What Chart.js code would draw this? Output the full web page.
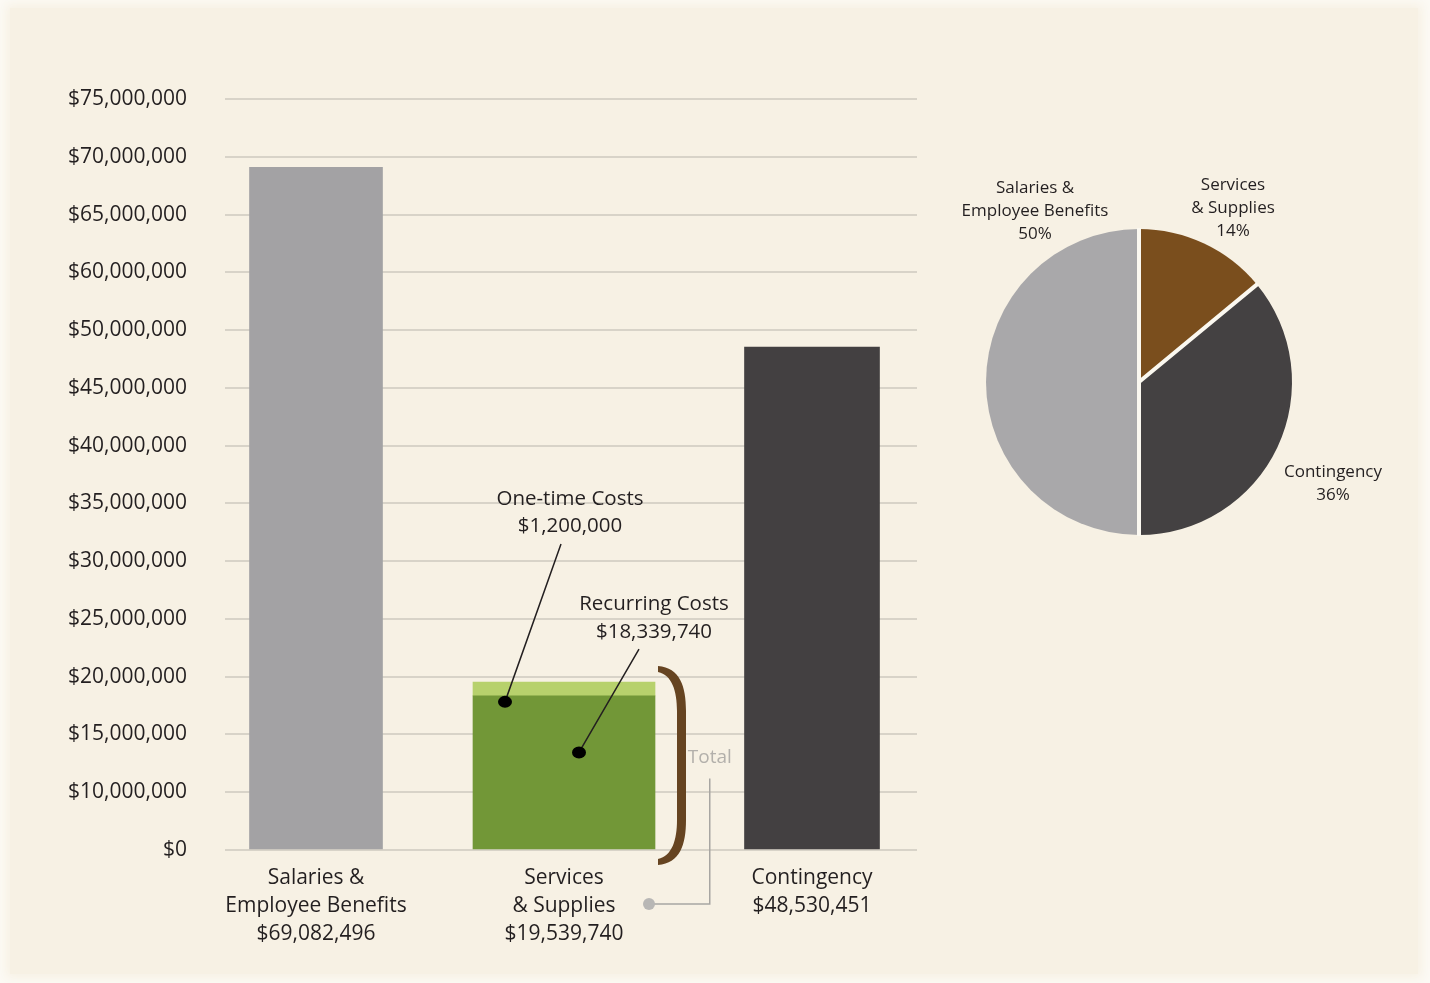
<!DOCTYPE html>
<html>
<head>
<meta charset="utf-8">
<script src="https://cdn.jsdelivr.net/npm/chart.js@4.4.1/dist/chart.umd.min.js"></script>
<style>
  html, body { margin: 0; padding: 0; background: #fcfaf5; width: 1430px; height: 983px; overflow: hidden; }
  #panel { position: absolute; left: 10px; top: 8px; width: 1408px; height: 966px; background: #f7f1e4; box-shadow: 0 0 10px 4px #f7f1e4; }
  #bar { position: absolute; left: 0; top: 0; }
  #pie { position: absolute; left: 940px; top: 150px; }
</style>
</head>
<body>
<div id="panel"></div>
<canvas id="bar" width="940" height="983"></canvas>
<canvas id="pie" width="490" height="420"></canvas>
<script>
// budget categories and totals
const categoryLabels = [
  ['Salaries &', 'Employee Benefits', '$69,082,496'],
  ['Services', '& Supplies', '$19,539,740'],
  ['Contingency', '$48,530,451']
];
const salaries = [69082496, null, null];
const recurringCosts = [null, 18339740, null];
const oneTimeCosts = [null, 1200000, null];
const contingency = [null, null, 48530451];

// the y-axis values as printed, on evenly spaced lines
const yTickValues = [0, 10000000, 15000000, 20000000, 25000000, 30000000, 35000000,
  40000000, 45000000, 50000000, 60000000, 65000000, 70000000, 75000000];

// pie shares, in drawing order from 12 o'clock clockwise
const pieLabels = [['Services', '& Supplies', '14%'], ['Contingency', '36%'], ['Salaries &', 'Employee Benefits', '50%']];
const pieShares = [14, 36, 50];

Chart.defaults.font.family = '"Open Sans", sans-serif';
Chart.defaults.color = '#231f20';

const ink = '#231f20';
const money = v => '$' + v.toLocaleString('en-US');

// linear scale that places values between the printed ticks, which sit evenly spaced
class PrintedScale extends Chart.LinearScale {
  static id = 'printed';
  static defaults = Chart.LinearScale.defaults;
  buildTicks() {
    return yTickValues.map(v => ({ value: v }));
  }
  getPixelForValue(value) {
    const n = yTickValues.length - 1;
    let i = 0;
    while (i < n - 1 && value > yTickValues[i + 1]) i++;
    const a = yTickValues[i], b = yTickValues[i + 1];
    const pos = i + (value - a) / (b - a);
    return this.getPixelForDecimal(pos / n);
  }
  // grid rules are a bit shorter than the plot area
  drawGrid(area) {
    const ctx = this.ctx;
    ctx.save();
    ctx.beginPath();
    ctx.rect(area.left + 33, 0, area.right - area.left - 52, this.chart.height);
    ctx.clip();
    super.drawGrid(area);
    ctx.restore();
  }
}
Chart.register(PrintedScale);

function textLines(ctx, lines, x, y, lh) {
  lines.forEach((t, i) => ctx.fillText(t, x, y + i * lh));
}

const annotate = {
  id: 'annotate',
  afterDatasetsDraw(chart) {
    const ctx = chart.ctx;
    const rec = chart.getDatasetMeta(1).data[1];
    const one = chart.getDatasetMeta(2).data[1];
    const next = chart.getDatasetMeta(3).data[2];
    const c = rec.x;
    const R = c + rec.width / 2;
    const base = rec.base;
    const recTop = rec.y;
    const top = one.y;

    ctx.save();
    ctx.font = '20.5px "Open Sans", sans-serif';
    ctx.fillStyle = ink;
    ctx.textAlign = 'center';
    ctx.textBaseline = 'middle';
    textLines(ctx, ['One-time Costs', money(oneTimeCosts[1])], c + 6, top - 183, 27);
    textLines(ctx, ['Recurring Costs', money(recurringCosts[1])], c + 90, top - 78, 28);

    // leader lines + dots
    ctx.strokeStyle = ink;
    ctx.lineWidth = 1.5;
    const d1 = { x: c - 59, y: recTop + 6 };
    const d2 = { x: c + 15, y: (recTop + base) / 2 - 20 };
    ctx.beginPath();
    ctx.moveTo(c - 3, top - 138); ctx.lineTo(d1.x, d1.y);
    ctx.moveTo(c + 75, top - 33); ctx.lineTo(d2.x, d2.y);
    ctx.stroke();
    ctx.fillStyle = '#000';
    [d1, d2].forEach(d => {
      ctx.beginPath();
      ctx.ellipse(d.x, d.y, 7, 6, 0, 0, Math.PI * 2);
      ctx.fill();
    });

    // brace
    const bx = R + 3, y0 = top - 16, y1 = base + 16;
    ctx.fillStyle = '#664421';
    ctx.beginPath();
    ctx.moveTo(bx, y0);
    ctx.bezierCurveTo(bx + 22, y0 + 2, bx + 28, y0 + 20, bx + 28, y0 + 45);
    ctx.lineTo(bx + 28, y1 - 45);
    ctx.bezierCurveTo(bx + 28, y1 - 20, bx + 22, y1 - 2, bx, y1);
    ctx.lineTo(bx, y1 - 6);
    ctx.bezierCurveTo(bx + 14, y1 - 9, bx + 19, y1 - 25, bx + 19, y1 - 45);
    ctx.lineTo(bx + 19, y0 + 45);
    ctx.bezierCurveTo(bx + 19, y0 + 25, bx + 14, y0 + 9, bx, y0 + 6);
    ctx.closePath();
    ctx.fill();

    // "Total" callout, centred in the gap before the next bar
    const tx = (R + 30 + next.x - next.width / 2) / 2 - 5;
    const mid = (top + base) / 2;
    ctx.font = '19px "Open Sans", sans-serif';
    ctx.fillStyle = '#b3b0ab';
    ctx.fillText('Total', tx, mid - 8);
    ctx.strokeStyle = '#a8a6a2';
    ctx.lineWidth = 1.5;
    ctx.beginPath();
    ctx.moveTo(tx, mid + 13);
    ctx.lineTo(tx, base + 55);
    ctx.lineTo(R - 6, base + 55);
    ctx.stroke();
    ctx.fillStyle = '#b8b7b5';
    ctx.beginPath();
    ctx.arc(R - 6, base + 55, 6, 0, Math.PI * 2);
    ctx.fill();
    ctx.restore();
  }
};

new Chart(document.getElementById('bar'), {
  type: 'bar',
  data: {
    labels: categoryLabels,
    datasets: [
      { label: 'Salaries & Employee Benefits', data: salaries, backgroundColor: '#a3a2a4', barThickness: 133 },
      { label: 'Recurring Costs', data: recurringCosts, backgroundColor: '#729737', barThickness: 182 },
      { label: 'One-time Costs', data: oneTimeCosts, backgroundColor: '#b7d16c', barThickness: 182 },
      { label: 'Contingency', data: contingency, backgroundColor: '#434041', barThickness: 135 }
    ]
  },
  options: {
    responsive: false,
    animation: false,
    layout: { padding: { top: 99, right: 4, bottom: 0, left: 0 } },
    plugins: { legend: { display: false }, tooltip: { enabled: false } },
    scales: {
      x: {
        stacked: true,
        grid: { display: false },
        border: { display: false },
        ticks: { color: ink, font: { size: 21, lineHeight: '28px' }, padding: 6, maxRotation: 0, autoSkip: false },
        afterFit: (s) => { s.height = 133; }
      },
      y: {
        type: 'printed',
        stacked: true,
        min: 0,
        max: yTickValues[yTickValues.length - 1],
        afterFit: (s) => { s.width = 192; },
        grid: { color: '#d8d3c8', lineWidth: 2, drawTicks: false },
        border: { display: false },
        ticks: {
          color: ink,
          font: { size: 21 },
          padding: 5,
          callback: (v) => money(v)
        }
      }
    }
  },
  plugins: [annotate]
});

// white gaps between slices, only along the radii
const pieText = {
  id: 'pieText',
  afterDatasetsDraw(chart) {
    const ctx = chart.ctx;
    const arcs = chart.getDatasetMeta(0).data;
    const cx = arcs[0].x, cy = arcs[0].y, r = arcs[0].outerRadius;
    ctx.save();
    ctx.strokeStyle = '#fbf8f0';
    ctx.lineWidth = 4;
    ctx.beginPath();
    arcs.forEach(a => {
      ctx.moveTo(cx, cy);
      ctx.lineTo(cx + Math.cos(a.startAngle) * (r + 1), cy + Math.sin(a.startAngle) * (r + 1));
    });
    ctx.stroke();

    const spots = [{ dx: 94, dy: -197 }, { dx: 194, dy: 90 }, { dx: -104, dy: -194 }];
    ctx.font = '17px "Open Sans", sans-serif';
    ctx.fillStyle = ink;
    ctx.textAlign = 'center';
    ctx.textBaseline = 'middle';
    pieLabels.forEach((lines, i) => textLines(ctx, lines, cx + spots[i].dx, cy + spots[i].dy, 23));
    ctx.restore();
  }
};

new Chart(document.getElementById('pie'), {
  type: 'pie',
  data: {
    labels: pieLabels.map(l => l.slice(0, -1).join(' ')),
    datasets: [{
      data: pieShares,
      backgroundColor: ['#7a4e1d', '#444142', '#a9a8aa'],
      borderWidth: 0
    }]
  },
  options: {
    responsive: false,
    animation: false,
    layout: { padding: { left: 46, top: 79, right: 138, bottom: 35 } },
    plugins: { legend: { display: false }, tooltip: { enabled: false } }
  },
  plugins: [pieText]
});
</script>
</body>
</html>
